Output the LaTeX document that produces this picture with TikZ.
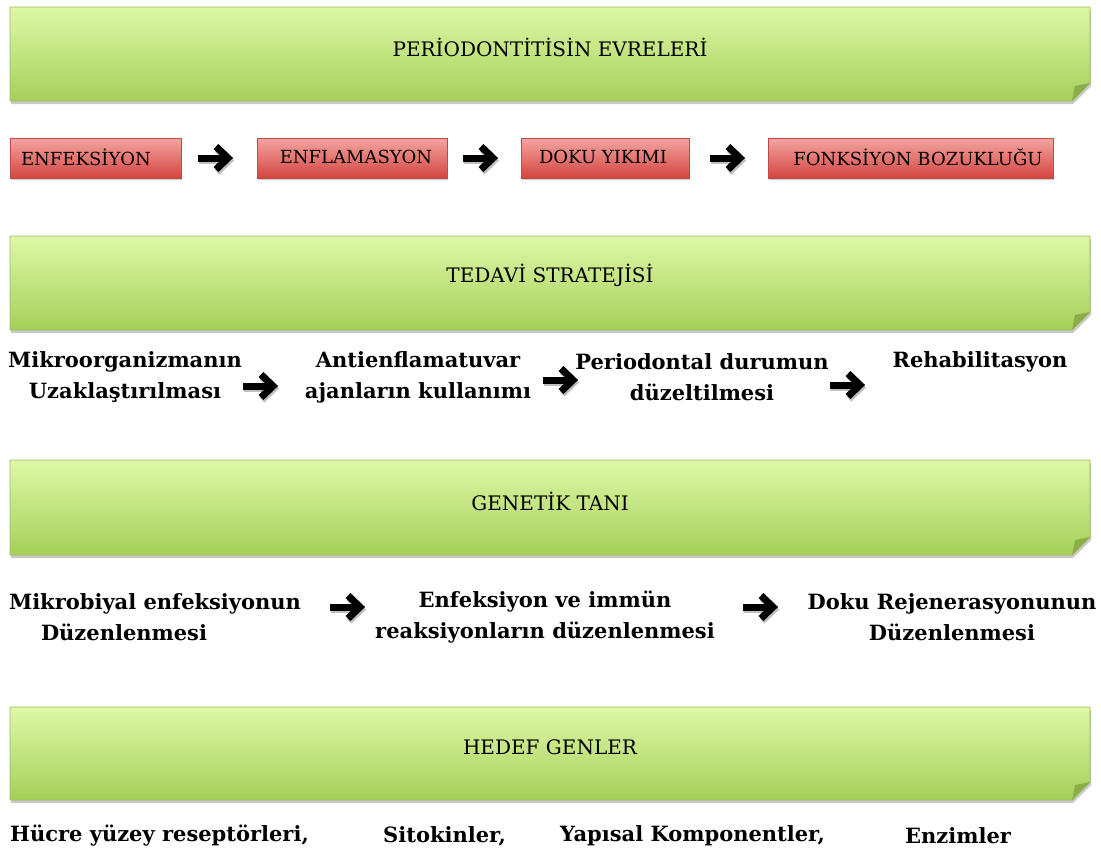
\documentclass[tikz,border=0pt]{standalone}
\usepackage{fontspec}
\setmainfont{DejaVu Serif}
\usetikzlibrary{shadows}
\definecolor{bannertop}{HTML}{DEF8A6}
\definecolor{bannerbot}{HTML}{A6CF5A}
\definecolor{bannerline}{HTML}{9BBB59}
\definecolor{bannerfold}{HTML}{8CAE47}
\definecolor{redtop}{HTML}{F4A5A1}
\definecolor{redbot}{HTML}{D4453F}
\definecolor{redline}{HTML}{BE4B48}
\tikzset{
  x=1pt, y=-1pt,
  banner/.style={draw=bannerline, line width=0.8pt, top color=bannertop, bottom color=bannerbot,
    drop shadow={shadow xshift=1pt, shadow yshift=-3pt, opacity=.3, fill=black!70}},
  bannertext/.style={font=\fontsize{20}{24}\selectfont, inner sep=0pt},
  redbox/.style={draw=redline, line width=0.8pt, top color=redtop, bottom color=redbot,
    drop shadow={shadow xshift=1pt, shadow yshift=-2pt, opacity=.3, fill=black!70}},
  redtext/.style={font=\fontsize{18}{22}\selectfont, inner sep=0pt},
  steptext/.style={font=\bfseries\fontsize{21}{31}\selectfont, inner sep=0pt, align=center},
  fatarrow/.pic={
    \begin{scope}[shift={(1,2.5)}]
      \draw[line width=7pt, black!25] (-18,0) -- (11,0);
      \draw[line width=7pt, black!25, line join=miter] (0,-11.5) -- (12,0) -- (0,11.5);
    \end{scope}
    \draw[line width=7pt] (-18,0) -- (11,0);
    \draw[line width=7pt, line join=miter] (0,-11.5) -- (12,0) -- (0,11.5);
  }
}
\newcommand{\bannerpath}[2]{%
  \path[banner] (10,#1) -- (1090,#1) -- (1090,#2-18) -- (1072,#2) -- (10,#2) -- cycle;
  \fill[bannerfold] (1090,#2-18) -- (1072,#2) -- (1075,#2-15) -- cycle;
}
\begin{document}
\begin{tikzpicture}
\useasboundingbox (0,0) rectangle (1101,852);

% --- stage banner and stage boxes ---
\bannerpath{7}{101}
\node[bannertext] (b1) at (550,47) {PERİODONTİTİSİN EVRELERİ};

\path[redbox] (10,138) rectangle (181,178);
\path[redbox] (257,138) rectangle (447,178);
\path[redbox] (521,138) rectangle (689,178);
\path[redbox] (768,138) rectangle (1053,178);
\node[redtext] (r1) at (86,157) {ENFEKSİYON};
\node[redtext] (r2) at (356,157) {ENFLAMASYON};
\node[redtext] (r3) at (603,157) {DOKU YIKIMI};
\node[redtext] (r4) at (918,157) {FONKSİYON BOZUKLUĞU};

\coordinate (a1) at (216,158);
\coordinate (a2) at (481,158);
\coordinate (a3) at (728,158);
\pic at (a1) {fatarrow};
\pic at (a2) {fatarrow};
\pic at (a3) {fatarrow};

% --- treatment strategy ---
\bannerpath{236}{330}
\node[bannertext] (b2) at (550,275) {TEDAVİ STRATEJİSİ};

\node[steptext] (t1) at (125,377) {Mikroorganizmanın\\Uzaklaştırılması};
\node[steptext] (t2) at (418,377) {Antienflamatuvar\\ajanların kullanımı};
\node[steptext] (t3) at (702,377) {Periodontal durumun\\düzeltilmesi};
\node[steptext] (t4) at (980,362) {Rehabilitasyon};

\coordinate (a4) at (261,386);
\coordinate (a5) at (561,380);
\coordinate (a6) at (848,385);
\pic at (a4) {fatarrow};
\pic at (a5) {fatarrow};
\pic at (a6) {fatarrow};

% --- genetic diagnosis ---
\bannerpath{460}{555}
\node[bannertext] (b3) at (550,501) {GENETİK TANI};

\node[steptext, align=left] (g1) at (155,617) {Mikrobiyal enfeksiyonun\\\hspace*{32pt}Düzenlenmesi};
\node[steptext] (g2) at (545,617) {Enfeksiyon ve immün\\reaksiyonların düzenlenmesi};
\node[steptext] (g3) at (952,617) {Doku Rejenerasyonunun\\Düzenlenmesi};

\coordinate (a7) at (348,607);
\coordinate (a8) at (761,607);
\pic at (a7) {fatarrow};
\pic at (a8) {fatarrow};

% --- target genes ---
\bannerpath{707}{800}
\node[bannertext] (b4) at (550,747) {HEDEF GENLER};

\node[steptext, anchor=west] (h1) at (10,836) {Hücre yüzey reseptörleri,};
\node[steptext, anchor=west] (h2) at (383,836) {Sitokinler,};
\node[steptext, anchor=west] (h3) at (560,836) {Yapısal Komponentler,};
\node[steptext, anchor=west] (h4) at (905,836) {Enzimler};
\end{tikzpicture}
\end{document}
